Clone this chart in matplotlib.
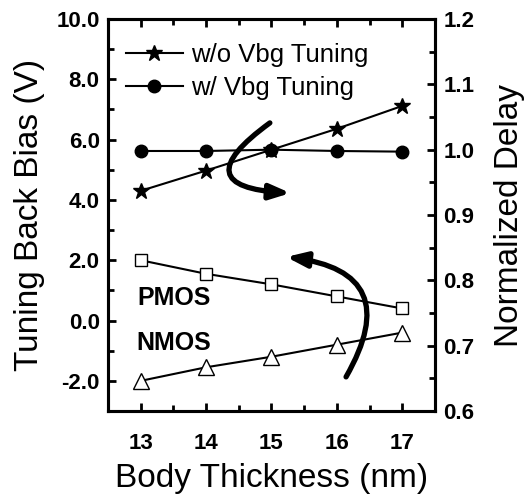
import matplotlib
matplotlib.use('Agg')
import matplotlib.pyplot as plt

plt.rcParams['font.family'] = ['Liberation Sans', 'DejaVu Sans']

# 数据
thickness = [13, 14, 15, 16, 17]
delay_no_tuning = [0.937, 0.968, 1.000, 1.032, 1.067]
delay_tuning = [0.998, 0.998, 1.000, 0.998, 0.997]
vbg_pmos = [2.0, 1.55, 1.2, 0.8, 0.4]
vbg_nmos = [-2.0, -1.55, -1.2, -0.8, -0.4]

left_ticks = [-2.0, 0.0, 2.0, 4.0, 6.0, 8.0, 10.0]
right_ticks = [0.6, 0.7, 0.8, 0.9, 1.0, 1.1, 1.2]

fig = plt.figure(figsize=(5.26, 4.98), dpi=100)
ax = fig.add_axes([0.2053, 0.1747, 0.6217, 0.7871])
ax2 = ax.twinx()

# 左轴: back bias
ax.plot(thickness, vbg_pmos, '-', color='black', lw=1.5, marker='s', ms=8.5,
        mfc='white', mec='black', mew=1.0)
ax.plot(thickness, vbg_nmos, '-', color='black', lw=1.5, marker='^', ms=11,
        mfc='white', mec='black', mew=1.0)

# 右轴: normalized delay
ax2.plot(thickness, delay_no_tuning, '-', color='black', lw=1.5, marker='*', ms=12,
         label='w/o Vbg Tuning')
ax2.plot(thickness, delay_tuning, '-', color='black', lw=1.5, marker='o', ms=9,
         label='w/ Vbg Tuning')

ax.set_xlim(12.5, 17.5)
ax.set_ylim(-3, 10)
ax2.set_ylim(0.6, 1.2)

ax.set_xticks(thickness)
ax.set_xticks([12.5 + 0.5 * i for i in range(11)], minor=True)
ax.set_yticks(left_ticks)
ax.set_yticklabels([f'{v:.1f}' for v in left_ticks])
ax.set_yticks(range(-3, 10, 2), minor=True)
ax2.set_yticks(right_ticks)
ax2.set_yticklabels([f'{v:.1f}' for v in right_ticks])
ax2.set_yticks([0.65 + 0.1 * i for i in range(6)], minor=True)

for a in (ax, ax2):
    for s in a.spines.values():
        s.set_linewidth(2.2)
    a.tick_params(which='major', direction='in', length=6, width=2.0, labelsize=16, pad=6)
    a.tick_params(which='minor', direction='in', length=4, width=2.0)
ax.tick_params(which='both', top=True, right=False)
ax.tick_params(axis='x', pad=16)
for lab in ax.get_xticklabels() + ax.get_yticklabels() + ax2.get_yticklabels():
    lab.set_fontweight('bold')

ax.set_xlabel('Body Thickness (nm)', fontsize=24, labelpad=6)
ax.set_ylabel('Tuning Back Bias (V)', fontsize=24, labelpad=8)
ax2.set_ylabel('Normalized Delay', fontsize=24, labelpad=14)

ax2.legend(loc='upper left', frameon=False, fontsize=18.5, handlelength=2.2,
           handletextpad=0.35, borderaxespad=0, borderpad=0, labelspacing=0.35,
           bbox_to_anchor=(0.055, 0.94))

ax.text(0.202, 0.288, 'PMOS', transform=ax.transAxes, fontsize=18,
        fontweight='bold', ha='center', va='center')
ax.text(0.202, 0.173, 'NMOS', transform=ax.transAxes, fontsize=18,
        fontweight='bold', ha='center', va='center')

# 弯箭头
ax.annotate('', xy=(0.558, 0.556), xytext=(0.495, 0.735), xycoords='axes fraction',
            arrowprops=dict(arrowstyle='-|>,head_length=1.2,head_width=0.45',
                            connectionstyle='arc3,rad=1.4', color='black', lw=3.8,
                            shrinkA=0, shrinkB=0))
ax.annotate('', xy=(0.545, 0.393), xytext=(0.728, 0.087), xycoords='axes fraction',
            arrowprops=dict(arrowstyle='-|>,head_length=1.2,head_width=0.45',
                            connectionstyle='arc3,rad=0.75', color='black', lw=3.8,
                            shrinkA=0, shrinkB=0))

fig.savefig('out.png', dpi=100)
